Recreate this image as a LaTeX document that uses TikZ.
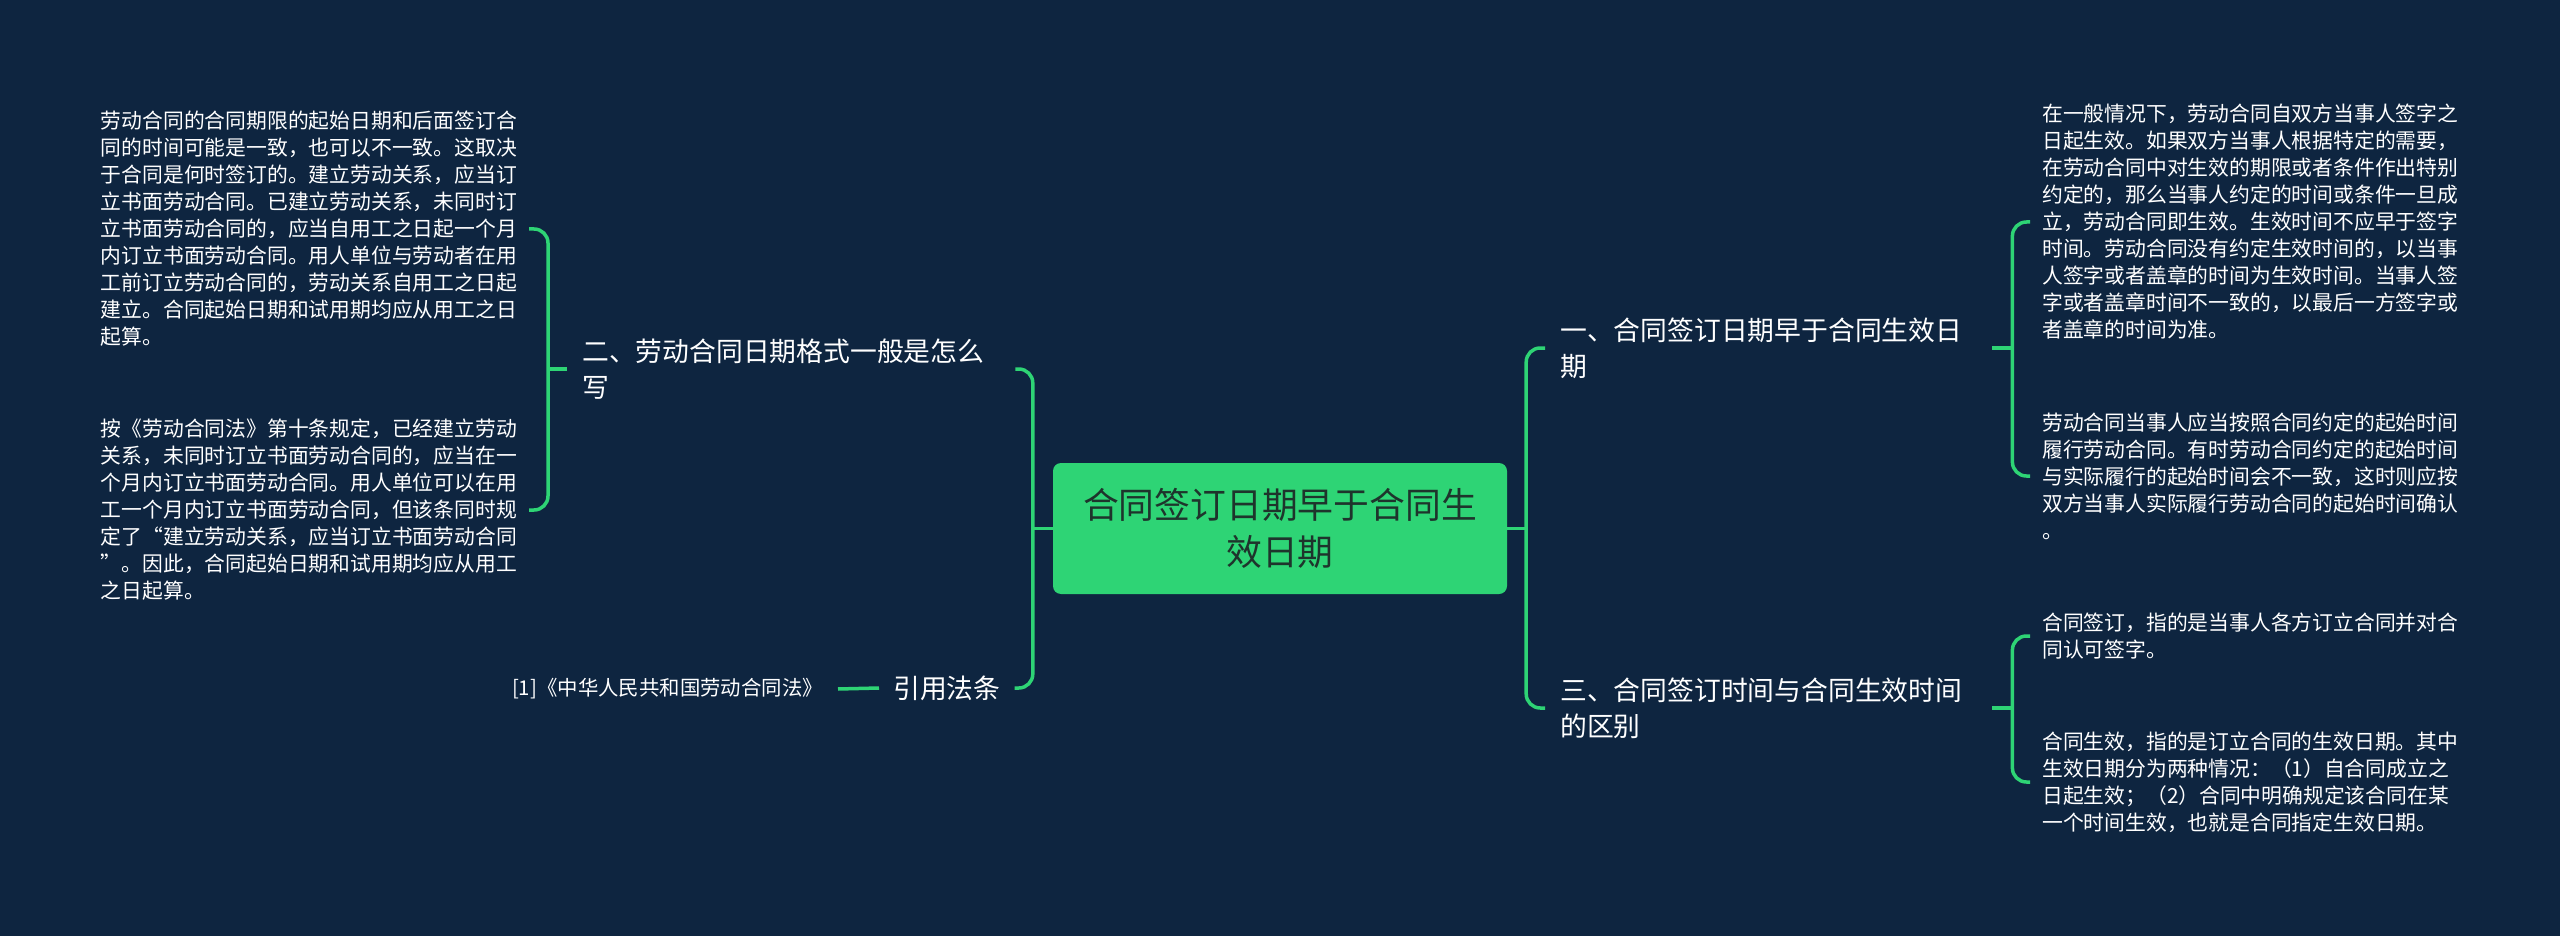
\documentclass[tikz,border=0pt]{standalone}
\usepackage{fontspec}
\setmainfont{Noto Sans CJK SC}
\usetikzlibrary{calc}
\definecolor{bg}{RGB}{14,37,64}
\definecolor{grn}{RGB}{46,212,117}
\definecolor{dtxt}{RGB}{30,52,44}
\begin{document}
\begin{tikzpicture}[x=1pt,y=-1pt,
  conn/.style={draw=grn, line width=3.5pt, rounded corners=14pt},
  mainn/.style={text=white, font=\fontsize{26.8}{36}\selectfont, align=left, inner xsep=15pt, inner ysep=4pt},
  leafn/.style={text=white, font=\fontsize{20.8}{27}\selectfont, align=left, inner xsep=12pt, inner ysep=3pt, text width=420pt},
  reftxt/.style={text=white, font=\fontsize{20.4}{27}\selectfont, inner xsep=15pt, inner ysep=3pt},
  rootn/.style={fill=grn, rounded corners=8pt, text=dtxt, font=\fontsize{35.8}{47}\selectfont, align=center, minimum width=454pt, minimum height=131pt, inner sep=0pt, text width=440pt}]
\fill[bg] (0,0) rectangle (2560,936);
\useasboundingbox (0,0) rectangle (2560,936);

% root
\node[rootn] (root) at (1280,528.5) {合同签订日期早于合同生\\效日期};

% main branches
\node[mainn, text width=418pt, anchor=west] (n2) at (567,369) {二、劳动合同日期格式一般是怎么\\写};
\node[mainn, anchor=west, inner xsep=14pt] (ref) at (879,688) {引用法条};
\node[mainn, text width=417pt, anchor=west] (n1) at (1545,348) {一、合同签订日期早于合同生效日\\期};
\node[mainn, text width=417pt, anchor=west] (n3) at (1545,708) {三、合同签订时间与合同生效时间\\的区别};

% left leaves
\node[leafn, anchor=east, inner xsep=8pt] (l1) at (529,229) {劳动合同的合同期限的起始日期和后面签订合\\同的时间可能是一致，也可以不一致。这取决\\于合同是何时签订的。建立劳动关系，应当订\\立书面劳动合同。已建立劳动关系，未同时订\\立书面劳动合同的，应当自用工之日起一个月\\内订立书面劳动合同。用人单位与劳动者在用\\工前订立劳动合同的，劳动关系自用工之日起\\建立。合同起始日期和试用期均应从用工之日\\起算。};
\node[leafn, anchor=east, inner xsep=8pt] (l2) at (529,510) {按《劳动合同法》第十条规定，已经建立劳动\\关系，未同时订立书面劳动合同的，应当在一\\个月内订立书面劳动合同。用人单位可以在用\\工一个月内订立书面劳动合同，但该条同时规\\定了“建立劳动关系，应当订立书面劳动合同\\”。因此，合同起始日期和试用期均应从用工\\之日起算。};
\node[reftxt, anchor=east] (lawref) at (838,689) {[1]《中华人民共和国劳动合同法》};

% right leaves
\node[leafn, anchor=west] (r1) at (2030,222) {在一般情况下，劳动合同自双方当事人签字之\\日起生效。如果双方当事人根据特定的需要，\\在劳动合同中对生效的期限或者条件作出特别\\约定的，那么当事人约定的时间或条件一旦成\\立，劳动合同即生效。生效时间不应早于签字\\时间。劳动合同没有约定生效时间的，以当事\\人签字或者盖章的时间为生效时间。当事人签\\字或者盖章时间不一致的，以最后一方签字或\\者盖章的时间为准。};
\node[leafn, anchor=west] (r2) at (2030,476) {劳动合同当事人应当按照合同约定的起始时间\\履行劳动合同。有时劳动合同约定的起始时间\\与实际履行的起始时间会不一致，这时则应按\\双方当事人实际履行劳动合同的起始时间确认\\。};
\node[leafn, anchor=west] (r3) at (2030,636) {合同签订，指的是当事人各方订立合同并对合\\同认可签字。};
\node[leafn, anchor=west] (r4) at (2030,782) {合同生效，指的是订立合同的生效日期。其中\\生效日期分为两种情况：（1）自合同成立之\\日起生效；（2）合同中明确规定该合同在某\\一个时间生效，也就是合同指定生效日期。};

% connectors: root
\draw[conn] (root.west) -- ++(-20,0);
\draw[conn] (n2.east) -| ($(root.west)+(-20,0)$) |- (ref.east);
\draw[conn] (root.east) -- ++(19,0);
\draw[conn] (n1.west) -| ($(root.east)+(19,0)$) |- (n3.west);

% left brackets
\draw[conn] (n2.west) -- ++(-19,0);
\draw[conn] (l1.east) -| ($(n2.west)+(-19,0)$) |- (l2.east);
\draw[conn] (ref.west) -- (lawref.east);

% right brackets
\draw[conn] (n1.east) -- ++(20,0);
\draw[conn] (r1.west) -| ($(n1.east)+(20,0)$) |- (r2.west);
\draw[conn] (n3.east) -- ++(20,0);
\draw[conn] (r3.west) -| ($(n3.east)+(20,0)$) |- (r4.west);
\end{tikzpicture}
\end{document}
